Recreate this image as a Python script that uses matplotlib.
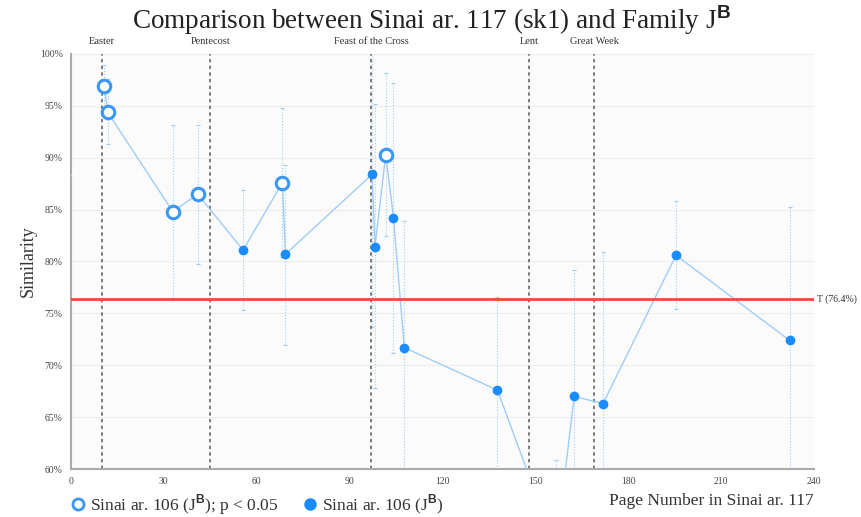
import matplotlib
matplotlib.use("Agg")
import matplotlib.pyplot as plt
from matplotlib.lines import Line2D
from matplotlib.ticker import FuncFormatter

plt.rcParams["font.family"] = ["Liberation Serif", "DejaVu Serif"]
plt.rcParams["mathtext.fontset"] = "custom"
plt.rcParams["mathtext.rm"] = "Liberation Serif"
plt.rcParams["mathtext.bf"] = "Liberation Sans:bold"

# witnesses significant at p < 0.05 (open markers)
sig_pages = [10.8, 11.8, 32.9, 40.9, 68.3, 101.7]
sig_sim = [96.9, 94.4, 84.8, 86.5, 87.6, 90.3]
sig_low = [94.9, 91.3, 76.5, 79.8, 80.4, 82.5]
sig_high = [98.9, 97.6, 93.2, 93.2, 94.8, 98.2]

# other witnesses (filled markers)
ns_pages = [55.6, 69.3, 97.3, 98.2, 104.2, 107.7, 137.8, 156.7, 162.6, 171.9, 195.5, 232.2]
ns_sim = [81.1, 80.7, 88.4, 81.4, 84.2, 71.7, 67.6, 52.3, 67.0, 66.3, 80.6, 72.4]
ns_low = [75.3, 72.0, 73.7, 67.8, 71.2, 59.5, 58.6, 43.7, 54.8, 51.7, 75.4, 59.5]
ns_high = [86.9, 89.3, 103.1, 95.2, 97.2, 83.9, 76.6, 60.9, 79.2, 80.9, 85.8, 85.3]

feasts = ["Easter", "Pentecost", "Feast of the Cross", "Lent", "Great Week"]
feast_pages = [10, 45, 97, 148, 169]

threshold = 76.4
dash_level = 88.3

BLUE = "#1a8cff"
LIGHT = "#9fcdf8"

fig = plt.figure(figsize=(8.62, 5.17), dpi=100)
ax = fig.add_axes([0.0824, 0.0928, 0.8616, 0.8028])
ax.set_facecolor("#fbfbfb")

# connecting line through all points in page order
allpts = sorted(zip(sig_pages + ns_pages, sig_sim + ns_sim))
ax.plot([p[0] for p in allpts], [p[1] for p in allpts], color=LIGHT, lw=1.0, zorder=3)

# error bars
for pages, sim, lo, hi in [(sig_pages, sig_sim, sig_low, sig_high),
                           (ns_pages, ns_sim, ns_low, ns_high)]:
    yerr = [[s - l for s, l in zip(sim, lo)], [h - s for s, h in zip(sim, hi)]]
    eb = ax.errorbar(pages, sim, yerr=yerr, fmt="none", ecolor=LIGHT, elinewidth=0.8,
                     capsize=1.2, capthick=0.8, zorder=2)
    eb[2][0].set_linestyle(":")

for x in feast_pages:
    ax.axvline(x, color="#666666", ls=(0, (2, 2)), lw=1.2, zorder=2.5)
for x, name in zip(feast_pages, feasts):
    ax.text(x, 100.8, name, ha="center", va="bottom", fontsize=7.5, color="#333333")

ax.axhline(dash_level, color="white", ls=(0, (3, 3)), lw=1.0, alpha=0.9, zorder=2.6)
ax.axhline(threshold, color="#f0493e", lw=2.0, zorder=4)
ax.text(241.2, threshold, "T (76.4%)", ha="left", va="center", fontsize=7, color="#333333")

ax.plot(ns_pages, ns_sim, "o", color=BLUE, ms=6, zorder=5)
ax.plot(sig_pages, sig_sim, "o", mfc="white", mec="#3b97f5", mew=2.2, ms=9, zorder=6)

ax.set_xlim(0, 240)
ax.set_ylim(60, 100)
ax.set_xticks(range(0, 241, 30))
ax.set_yticks(range(60, 101, 5))
ax.yaxis.set_major_formatter(FuncFormatter(lambda v, p: f"{int(v)}%"))
ax.tick_params(length=0, labelsize=7, colors="#444444", pad=6)
ax.grid(axis="y", color="#eeeeee", lw=0.8)
ax.set_axisbelow(True)
for s in ["top", "right"]:
    ax.spines[s].set_visible(False)
for s in ["left", "bottom"]:
    ax.spines[s].set_color("#aaaaaa")
    ax.spines[s].set_linewidth(1.5)

ax.set_ylabel("Similarity", fontsize=13, color="#333333", labelpad=2)
fig.text(0.944, 0.023, "Page Number in Sinai ar. 117", ha="right", va="baseline",
         fontsize=12.5, color="#333333")
fig.text(0.5, 0.962, r"Comparison between Sinai ar. 117 (sk1) and Family J$^{\mathbf{B}}$",
         ha="center", va="center", fontsize=19.5, color="#222222")

handles = [
    Line2D([], [], ls="none", marker="o", mfc="white", mec="#3b97f5", mew=2, ms=8),
    Line2D([], [], ls="none", marker="o", color=BLUE, ms=8),
]
labels = [r"Sinai ar. 106 (J$^{\mathbf{B}}$); p < 0.05", r"Sinai ar. 106 (J$^{\mathbf{B}}$)"]
fig.legend(handles, labels, loc="lower left", bbox_to_anchor=(0.064, -0.03), ncol=2,
           frameon=False, fontsize=12.5, handlelength=0.8, handletextpad=0.3,
           columnspacing=1.4, labelcolor="#333333")

fig.savefig("out.png", dpi=100)
